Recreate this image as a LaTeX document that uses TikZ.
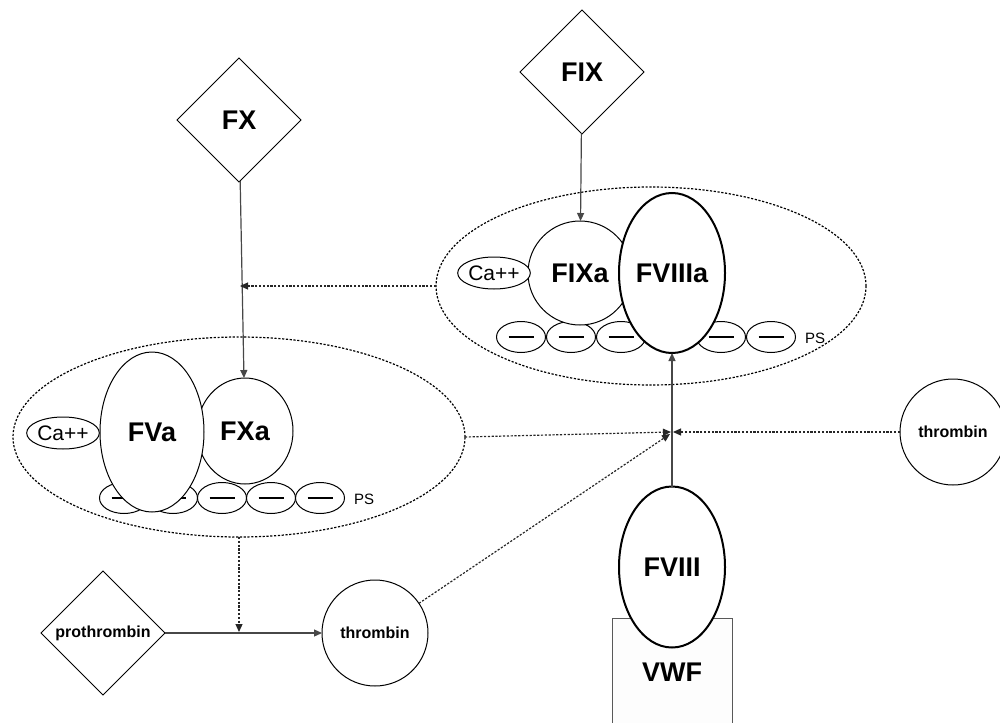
\documentclass[tikz,border=0pt]{standalone}
\usepackage{fontspec}
\setmainfont{Liberation Sans}
\usetikzlibrary{shapes.geometric,arrows.meta}
\begin{document}
\begin{tikzpicture}[x=1pt,y=-1pt,
  every node/.style={inner sep=0pt, outer sep=0pt},
  cplx/.style={ellipse, draw=black, line width=1.2pt, dash pattern=on 2.2pt off 1.6pt, minimum width=#1},
  ell/.style={ellipse, draw, fill=white, line width=1pt},
  thickell/.style={ellipse, draw, fill=white, line width=2pt},
  circ/.style={circle, draw, fill=white, line width=1pt},
  diam/.style={diamond, draw, fill=white, line width=1pt, minimum width=124pt, minimum height=124pt},
  big/.style={font=\fontsize{27}{30}\selectfont\bfseries},
  sbold/.style={font=\fontsize{16}{18}\selectfont\bfseries},
  ca/.style={ell, minimum width=72pt, minimum height=32pt, font=\fontsize{21}{23}\selectfont},
  psell/.style={ell, minimum width=49pt, minimum height=31pt},
  pslabel/.style={font=\fontsize{15}{17}\selectfont},
  conn/.style={draw=black!72, line width=1.2pt, -{Triangle[length=8pt,width=7pt]}},
  dconn/.style={draw=black!85, line width=1.2pt, dash pattern=on 2.2pt off 1.6pt, -{Triangle[length=8pt,width=7pt]}},
  vwfbox/.style={rectangle, draw=black!65, fill=black!0.8, line width=1pt, minimum width=120pt, minimum height=116pt, big}
]
\useasboundingbox (0,0) rectangle (1000,722);
\newcommand{\psdash}{\rule[-1.3pt]{25pt}{2.6pt}}

% complexes
\node[cplx=430pt, minimum height=198pt] (cxA) at (651,286) {};
\node[cplx=452pt, minimum height=200pt] (cxB) at (239,437) {};

% diamonds
\node[diam, big] (FX) at (239,120) {FX};
\node[diam, big] (FIX) at (582,72) {FIX};
\node[diam, sbold] (proth) at (103,633) {prothrombin};

% top complex
\foreach \i/\x in {1/521,2/571,3/621,4/671,5/721,6/771}
  \node[psell] (psA\i) at (\x,337) {\psdash};
\node[pslabel] (psAl) at (815,338) {PS};
\node[circ, minimum size=104pt, big] (FIXa) at (580,273) {FIXa};
\node[thickell, minimum width=106pt, minimum height=160pt, big] (FVIIIa) at (672,273) {FVIIIa};
\node[ca] (caA) at (494,273) {Ca++};

% left complex
\foreach \i/\x in {1/124,2/173,3/222,4/271,5/320}
  \node[psell] (psB\i) at (\x,498) {\psdash};
\node[pslabel] (psBl) at (364,499) {PS};
\node[ell, minimum width=96pt, minimum height=106pt, big] (FXa) at (245,431) {FXa};
\node[ell, minimum width=104pt, minimum height=160pt, big] (FVa) at (152,432) {FVa};
\node[ca] (caB) at (63,433) {Ca++};

% thrombins
\node[circ, minimum size=106pt, sbold] (thrB) at (375,633) {thrombin};
\node[circ, minimum size=106pt, sbold] (thrR) at (953,432) {thrombin};

% FVIII / VWF
\node[vwfbox] (VWF) at (672,676) {};
\node[big] (vwft) at (672,672) {VWF};
\node[thickell, minimum width=106pt, minimum height=161pt, big] (FVIII) at (672,567) {FVIII};

% meeting points
\coordinate (fxline) at (240,286);
\coordinate (mL) at (671,432);
\coordinate (mR) at (673,432);
\coordinate (mD) at (670,434);
\coordinate (pline) at (239,632);

% connectors
\draw[conn] (FX) -- (FXa);
\draw[conn] (FIX) -- (FIXa);
\draw[conn] (FVIII) -- (FVIIIa);
\draw[conn] (proth) -- (thrB);
\draw[dconn] (cxA.west) -- (fxline);
\draw[dconn] (cxB.east) -- (mL);
\draw[dconn] (thrR) -- (mR);
\draw[dconn] (thrB) -- (mD);
\draw[dconn] (cxB.south) -- (pline);
\end{tikzpicture}
\end{document}
